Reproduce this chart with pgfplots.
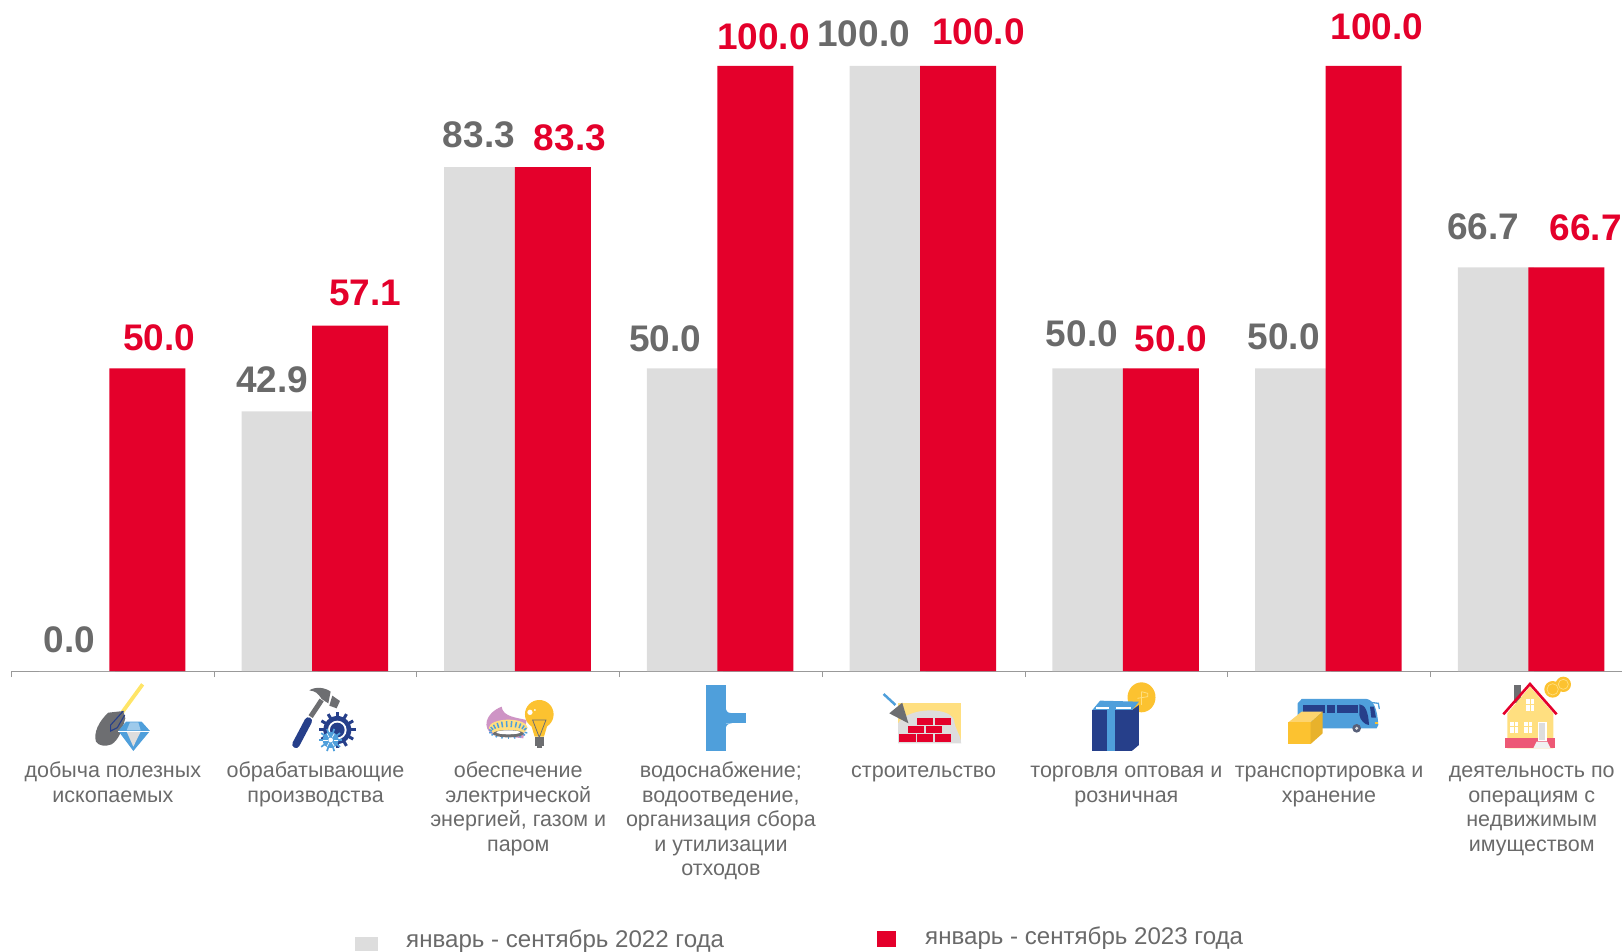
\documentclass[border=0pt]{standalone}
\usepackage{fontspec}
\setmainfont{Liberation Sans}
\usepackage{pgfplots}
\usetikzlibrary{calc}
\pgfplotsset{compat=1.18}
\definecolor{barred}{HTML}{E4002B}
\definecolor{bargray}{HTML}{DDDDDD}
\definecolor{lab}{HTML}{6A6A6A}
\definecolor{dkb}{HTML}{263F8A}
\definecolor{ltb}{HTML}{4F9FDB}
\definecolor{ygold}{HTML}{FCC230}
\definecolor{ylite}{HTML}{FFDF80}
\definecolor{steel}{HTML}{6D6E71}
\newcommand{\val}[4]{\node[text=#3,font=\fontsize{37}{41}\selectfont\bfseries,inner sep=0pt] at (#1*1.0344pt+1pt,951pt-#2*1.0344pt) {#4};}
\newcommand{\fs}{\rule{0pt}{18pt}}
\begin{document}
\begin{tikzpicture}[x=1pt,y=1pt]
\useasboundingbox (0,0) rectangle (1622,951);
\clip (0,0) rectangle (1622,951);
\begin{axis}[
  at={(11.5pt,280pt)},anchor=south west,
  scale only axis,width=1610.5pt,height=605pt,
  xmin=-0.5,xmax=7.445,ymin=0,ymax=100,
  clip=false,
  axis x line*=bottom,axis y line=none,
  axis line style={draw=black!40,line width=1pt},
  ybar,
  bar width=76pt,
  xtick={0,1,2,3,4,5,6,7},
  minor xtick={-0.5,0.5,1.5,2.5,3.5,4.5,5.5,6.5},
  major tick length=0pt,minor tick length=6pt,
  tick align=outside,
  minor x tick style={draw=black!40,line width=1pt},
  xticklabels={{\fs добыча полезных\\ископаемых},{\fs обрабатывающие\\производства},{\fs обеспечение\\электрической\\энергией, газом и\\паром},{\fs водоснабжение;\\водоотведение,\\организация сбора\\и утилизации\\отходов},{\fs строительство},{\fs торговля оптовая и\\розничная},{\fs транспортировка и\\хранение},{\fs деятельность по\\операциям с\\недвижимым\\имуществом}},
  xticklabel style={align=center,anchor=north,yshift=-85pt,text=lab,font=\fontsize{21.5}{24.5}\selectfont},
]
\addplot[fill=bargray,draw=none,bar shift=-36pt] coordinates {(0,0)(1,42.9)(2,83.3)(3,50)(4,100)(5,50)(6,50)(7,66.7)};
\addplot[fill=barred,draw=none,bar shift=34.5pt] coordinates {(0,50)(1,57.1)(2,83.3)(3,100)(4,100)(5,50)(6,100)(7,66.7)};
\end{axis}
% value labels
\val{66}{618.5}{lab}{0.0}\val{262}{367.5}{lab}{42.9}\val{462}{130.5}{lab}{83.3}\val{642}{327.5}{lab}{50.0}
\val{834}{32.5}{lab}{100.0}\val{1045}{322.5}{lab}{50.0}\val{1240}{325.5}{lab}{50.0}\val{1433}{219.5}{lab}{66.7}
\val{153}{326.5}{barred}{50.0}\val{352}{283.5}{barred}{57.1}\val{550}{133.5}{barred}{83.3}\val{737}{35.5}{barred}{100.0}
\val{945}{30.5}{barred}{100.0}\val{1131}{327.5}{barred}{50.0}\val{1330}{25.5}{barred}{100.0}\val{1532}{220.5}{barred}{66.7}
% legend
\fill[bargray] (355,0) rectangle (378,14);
\node[anchor=west,inner sep=0pt,text=lab,font=\fontsize{24.1}{27}\selectfont] at (406,10) {январь - сентябрь 2022 года};
\fill[barred] (877,4) rectangle (896,20);
\node[anchor=west,inner sep=0pt,text=lab,font=\fontsize{24.1}{27}\selectfont] at (925,13) {январь - сентябрь 2023 года};
% icons 1-3
\begin{scope}[shift={(80,276)},x=0.3333pt,y=-0.3333pt]
 \draw[ylite!80!yellow,line width=3.8pt] (188,28)--(128,110);
 \fill[steel] (85,113)--(130,108)--(136,130) .. controls (125,170) and (115,195) .. (95,208) .. controls (75,216) and (55,212) .. (48,200) .. controls (40,175) and (55,140) .. cycle;
 \draw[dkb,line width=1.1pt] (130,108)--(92,150)--(92,168)--(112,158)--(134,120);
 \fill[ltb] (138,140)--(185,140)--(210,168)--(160,228)--(115,168)--cycle;
 \fill[bargray] (140,170)--(182,170)--(160,215)--cycle;
 \fill[ltb!55!white] (150,142)--(175,142)--(182,166)--(140,166)--cycle;
 \draw[white,line width=.7pt] (115,168)--(210,168);
 % hammer and gears
 \draw[dkb,line width=7.5pt,line cap=round] (648,208)--(685,138);
 \draw[steel,line width=5pt] (692,125)--(725,75);
 \fill[steel] (688,46) .. controls (710,32) and (740,40) .. (752,50) -- (745,85) -- (725,72) .. controls (715,55) and (705,48) .. cycle;
 \fill[steel] (757,62)--(780,78)--(770,100)--(748,92)--cycle;
 \foreach \a in {0,30,...,330} {\draw[dkb,line width=3pt] (772,165)+(\a:38)--+(\a:55);}
 \fill[dkb] (772,165) circle (42);
 \fill[white] (772,165) circle (28);
 \fill[dkb] (772,165) circle (22);
 \foreach \a in {0,36,...,324} {\draw[ltb,line width=1.7pt] (752,195)+(\a:20)--+(\a:35);}
 \fill[ltb] (752,195) circle (24);
 \fill[white] (752,195) circle (7);
 \foreach \a in {0,60,...,300} {\draw[white,line width=.7pt] (752,195)+(\a:9)--+(\a:22);}
 % gas and bulb
 \fill[violet!45!white!85!pink] (1265,95) .. controls (1268,125) and (1310,128) .. (1340,135) -- (1330,190) -- (1240,180) .. controls (1205,160) and (1215,115) .. cycle;
 \fill[ylite] (1285,158) ellipse (58 and 24);
 \foreach \a in {190,205,...,350} {\draw[ltb,line width=1.5pt] ($(1285,170)+(\a:50 and 14)$)--($(1285,170)+(\a:58 and 32)$);}
 \foreach \a in {10,30,...,170} {\draw[ltb,line width=1.5pt] ($(1285,170)+(\a:50 and 12)$)--($(1285,170)+(\a:58 and 22)$);}
 \fill[steel] (1285,176) ellipse (46 and 11);
 \fill[white] (1285,172) ellipse (36 and 6);
 \fill[white] (1345,160) rectangle (1400,175);
 \fill[ygold] (1378,118) circle (43);
 \fill[ygold] (1352,145)--(1404,145)--(1392,185)--(1364,185)--cycle;
 \fill[steel] (1365,187) rectangle (1392,212);
 \fill[steel] (1370,212) rectangle (1387,220);
 \fill[white] (1350,112) circle (8);
 \fill[white] (1365,105) circle (3);
 \draw[steel,line width=.8pt] (1358,135)--(1398,135)--(1378,187)--cycle;
\end{scope}
% icon 4
\begin{scope}[shift={(0,301)},x=0.523pt,y=-0.3333pt]
 \fill[ltb] (1350,105) rectangle (1388,303);
 \fill[ltb] (1388,190) rectangle (1427,220);
 \fill[ltb] (1388,178) .. controls (1390,188) and (1395,190) .. (1400,190) -- (1388,190) -- cycle;
 \fill[ltb] (1388,232) .. controls (1390,222) and (1395,220) .. (1400,220) -- (1388,220) -- cycle;
\end{scope}
% icons 5, 6
\begin{scope}[shift={(810,301)},x=0.518pt,y=-0.3333pt]
 \fill[ylite] (170,160) rectangle (292,280);
 \fill[bargray] (170,220) .. controls (190,170) and (270,170) .. (278,210) .. controls (280,240) and (290,250) .. (292,280) -- (170,280) -- cycle;
 \fill[barred] (207,203) rectangle (238,225);
 \fill[barred] (241,203) rectangle (272,225);
 \fill[barred] (190,229) rectangle (221,250);
 \fill[barred] (224,229) rectangle (255,250);
 \fill[barred] (172,253) rectangle (204,275);
 \fill[barred] (207,253) rectangle (238,275);
 \fill[barred] (241,253) rectangle (272,275);
 \draw[ltb,line width=2.5pt] (142,132)--(165,165);
 \fill[steel] (178,158)--(153,190)--(190,220)--cycle;
 \fill[ygold] (640,142) ellipse (27 and 45);
 \draw[ylite,line width=.8pt] (640,125)--(640,165) (640,125)--(652,130)--(652,140)--(632,145);
 \fill[ltb] (560,152)--(635,155)--(622,180)--(545,180)--cycle;
 \fill[dkb] (545,180) rectangle (622,302);
 \fill[dkb] (622,180)--(635,165)--(635,285)--(622,302)--cycle;
 \fill[ltb] (573,180) rectangle (588,302);
 \fill[white] (553,172) rectangle (578,177);
 \fill[white] (590,172) rectangle (620,177);
\end{scope}
% icons 7, 8
\begin{scope}[shift={(1270,276)},x=0.3333pt,y=-0.3333pt]
 \fill[ltb] (95,72)--(290,72) .. controls (310,75) and (322,100) .. (325,150) -- (320,160) -- (83,160) -- (83,85) -- cycle;
 \draw[ltb,line width=1.3pt] (300,82)--(325,85)--(328,102);
 \fill[dkb] (100,90) rectangle (165,115);
 \fill[dkb] (170,90) rectangle (195,115);
 \fill[dkb] (200,90) rectangle (265,115);
 \fill[dkb] (268,88) .. controls (285,88) and (295,110) .. (297,150) .. controls (285,150) and (270,135) .. (268,120) -- cycle;
 \fill[dkb] (300,95)--(312,95)--(318,128)--(304,128)--cycle;
 \fill[steel!70!dkb] (260,160) circle (13);
 \fill[bargray] (260,160) circle (5);
 \fill[ygold] (316,142) rectangle (323,148);
 \fill[ygold!70!white] (55,142)--(95,110)--(158,110)--(122,142)--cycle;
 \fill[ygold] (55,142) rectangle (122,207);
 \fill[ygold!92!black] (122,142)--(158,110)--(158,175)--(122,207)--cycle;
 % house
 \fill[ygold] (848,43) circle (25);
 \fill[ygold] (880,28) circle (23);
 \draw[ylite,line width=.7pt] (848,43) circle (17) (880,28) circle (15);
 \fill[steel] (732,30) rectangle (752,85);
 \fill[ylite] (712,115)--(780,35)--(850,115)--(850,220)--(712,220)--cycle;
 \fill[barred!65!white] (705,188) rectangle (855,220);
 \draw[barred,line width=2.6pt] (700,118)--(780,27)--(860,118);
 \fill[white] (803,140) rectangle (830,198);
 \fill[bargray] (808,145) rectangle (826,195);
 \fill[bargray!40!white] (790,220)--(800,200)--(832,200)--(842,220)--cycle;
 \foreach \X/\Y in {720/140,762/140,768/72} {
  \fill[white] (\X,\Y) rectangle +(25,35);
  \draw[ylite,line width=.6pt] (\X+12.5,\Y)--+(0,35) (\X,\Y+15)--+(25,0);
 }
\end{scope}
\end{tikzpicture}
\end{document}
